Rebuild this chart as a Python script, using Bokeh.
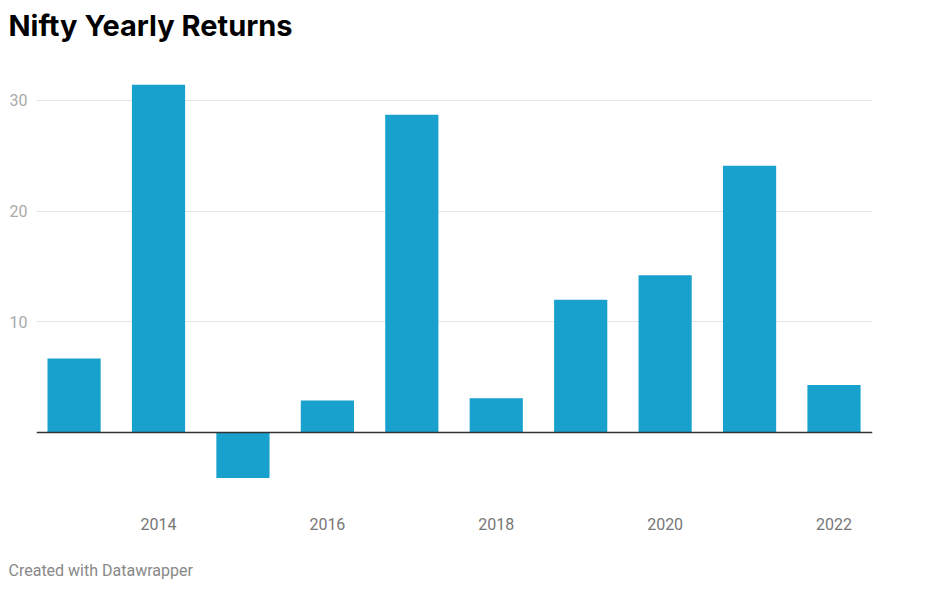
from bokeh.plotting import figure
from bokeh.models import Range1d, FixedTicker, Span, Title
from bokeh.embed import file_html
from bokeh.resources import INLINE

years = [2013, 2014, 2015, 2016, 2017, 2018, 2019, 2020, 2021, 2022]
returns = [6.7, 31.4, -4.1, 2.9, 28.7, 3.1, 12.0, 14.2, 24.1, 4.3]
x_ticks = [2014, 2016, 2018, 2020, 2022]
y_ticks = [10, 20, 30]

p = figure(width=933, height=581, output_backend="svg", toolbar_location=None,
           x_range=Range1d(2012.555, 2022.456), y_range=Range1d(-6.58, 34.68),
           min_border_left=36, min_border_right=61, min_border_top=47, min_border_bottom=76)
p.outline_line_color = None
p.background_fill_color = "white"
p.border_fill_color = "white"

p.vbar(x=years, top=returns, bottom=0, width=0.63, color="#18a1cd", line_color=None)
p.add_layout(Span(location=0, dimension="width", line_color="#333333", line_width=1.5))

p.xaxis.ticker = FixedTicker(ticks=x_ticks)
p.yaxis.ticker = FixedTicker(ticks=y_ticks)
for ax in (p.xaxis, p.yaxis):
    ax.axis_line_color = None
    ax.major_tick_line_color = None
    ax.minor_tick_line_color = None
    ax.major_tick_out = 0
    ax.major_tick_in = 0
    ax.minor_tick_out = 0
    ax.minor_tick_in = 0
    ax.major_label_text_font = "Roboto"
    ax.major_label_text_font_size = "16px"
p.xaxis.major_label_text_color = "#777777"
p.yaxis.major_label_text_color = "#aaaaaa"
p.xaxis.major_label_standoff = 12
p.yaxis.major_label_standoff = 9
# blank axis label used only as vertical spacing before the footer
p.xaxis.axis_label = " "
p.xaxis.axis_label_text_font_size = "10px"
p.xaxis.axis_label_standoff = 12
p.xgrid.grid_line_color = None
p.ygrid.grid_line_color = "#e6e6e6"
p.ygrid.grid_line_width = 1

p.add_layout(Title(text="Created with Datawrapper", align="left", offset=-28,
                   text_font="Roboto", text_font_size="16px", text_font_style="normal",
                   text_color="#888888", standoff=0), "below")
p.add_layout(Title(text="Nifty Yearly Returns", align="left", offset=-28,
                   text_font="Inter", text_font_size="29px", text_font_style="bold",
                   text_color="#000000", standoff=11), "above")

open("out.html", "w").write(file_html(p, INLINE))
